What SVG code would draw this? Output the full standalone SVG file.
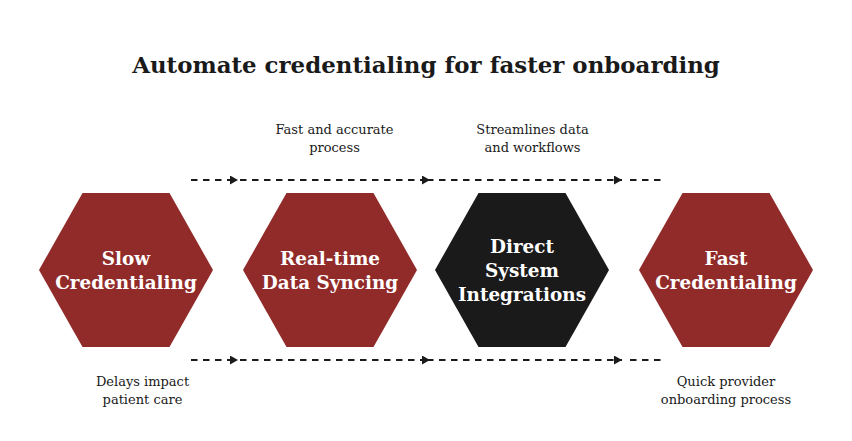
<svg xmlns="http://www.w3.org/2000/svg" width="852" height="441" viewBox="0 0 852 441">
<defs>
<marker id="arrow" markerWidth="8" markerHeight="9" refX="8" refY="4.5" orient="auto" markerUnits="userSpaceOnUse"><path d="M0 0L8 4.5L0 9Z" fill="#1a1a1a"/></marker>
</defs>
<style>
.title{font:700 22.9px "DejaVu Serif",serif;fill:#1a1a1a}
.lbl{font:400 13px "DejaVu Serif",serif;fill:#1a1a1a;text-anchor:middle}
.hd{font:700 18.4px "DejaVu Serif",serif;fill:#fff;text-anchor:middle}
.c{fill:none;stroke:#1a1a1a;stroke-width:2;stroke-dasharray:6.5 5.5}
.red{fill:#912b29}
.blk{fill:#1a1a1a}
</style>
<rect width="852" height="441" fill="#fff"/>
<text class="title" x="426" y="73" text-anchor="middle">Automate credentialing for faster onboarding</text>
<g id="connectors">
<path class="c" d="M191 180H238" marker-end="url(#arrow)"/>
<path class="c" d="M240 180H430" marker-end="url(#arrow)"/>
<path class="c" d="M427 180H622" marker-end="url(#arrow)"/>
<path class="c" d="M630 180H662"/>
<path class="c" d="M191 360H238" marker-end="url(#arrow)"/>
<path class="c" d="M240 360H430" marker-end="url(#arrow)"/>
<path class="c" d="M427 360H622" marker-end="url(#arrow)"/>
<path class="c" d="M630 360H662"/>
</g>
<g id="node-slow"><polygon class="red" points="39,270 82.5,193 169.5,193 213,270 169.5,347 82.5,347"/>
<text class="hd" x="126" y="265">Slow</text><text class="hd" x="126" y="289">Credentialing</text></g>
<g id="node-sync"><polygon class="red" points="243,270 286.5,193 373.5,193 417,270 373.5,347 286.5,347"/>
<text class="hd" x="330" y="265">Real-time</text><text class="hd" x="330" y="289">Data Syncing</text></g>
<g id="node-direct"><polygon class="blk" points="435,270 478.5,193 565.5,193 609,270 565.5,347 478.5,347"/>
<text class="hd" x="522" y="253">Direct</text><text class="hd" x="522" y="277">System</text><text class="hd" x="522" y="301">Integrations</text></g>
<g id="node-fast"><polygon class="red" points="639,270 682.5,193 769.5,193 813,270 769.5,347 682.5,347"/>
<text class="hd" x="726" y="265">Fast</text><text class="hd" x="726" y="289">Credentialing</text></g>
<g id="label-1"><text class="lbl" x="334.500" y="134">Fast and accurate</text><text class="lbl" x="334.500" y="152">process</text></g>
<g id="label-2"><text class="lbl" x="532.500" y="134">Streamlines data</text><text class="lbl" x="532.500" y="152">and workflows</text></g>
<g id="label-3"><text class="lbl" x="142.500" y="386">Delays impact</text><text class="lbl" x="142.500" y="404">patient care</text></g>
<g id="label-4"><text class="lbl" x="726" y="386">Quick provider</text><text class="lbl" x="726" y="404">onboarding process</text></g>
</svg>
